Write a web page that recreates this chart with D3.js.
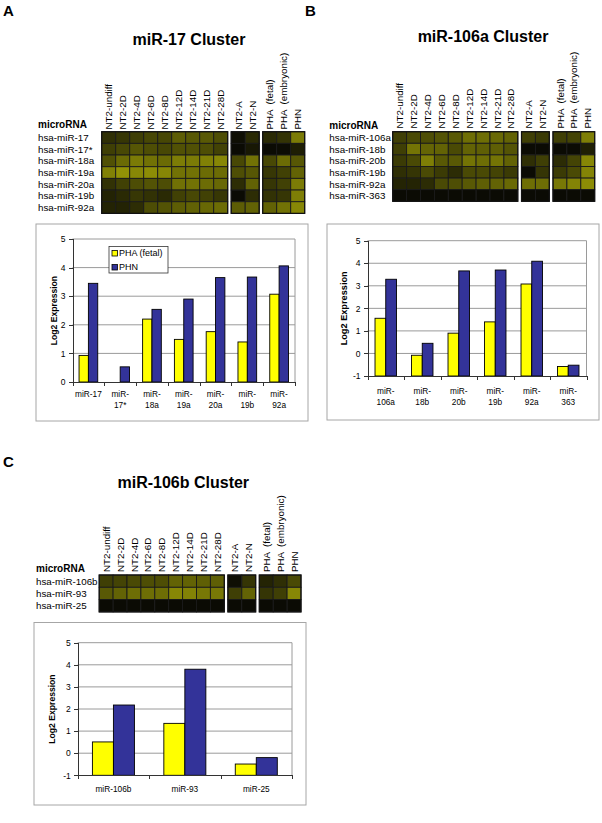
<!DOCTYPE html>
<html><head><meta charset="utf-8">
<script src="https://cdn.jsdelivr.net/npm/d3@7"></script>
<style>body{margin:0;background:#fff}svg{display:block}text{font-family:Arial,"Liberation Sans",sans-serif;fill:#000}</style>
</head><body><svg id="chart" width="602" height="823"></svg>
<script>
// ---------- DATA ----------
const conditions = ["NT2-undiff","NT2-2D","NT2-4D","NT2-6D","NT2-8D","NT2-12D","NT2-14D","NT2-21D","NT2-28D","NT2-A","NT2-N","PHA  (fetal)","PHA  (embryonic)","PHN"];
const conditionGroup = [0,0,0,0,0,0,0,0,0,1,1,2,2,2];
const seriesNames = ["PHA (fetal)","PHN"];

// Panel A: miR-17 cluster
const miR17Rows = ["hsa-miR-17","hsa-miR-17*","hsa-miR-18a","hsa-miR-19a","hsa-miR-20a","hsa-miR-19b","hsa-miR-92a"];
const miR17Heat = [
  [2.7,3.2,3.8,4.3,4.3,5.8,5.5,5.5,4.8, 0.6,2.4, 2.4,3.0,7.8],
  [3.8,4.4,5.3,4.8,4.4,5.0,5.0,4.8,4.0, 0.3,1.2, 0.3,0.4,1.6],
  [5.0,6.7,7.8,7.2,6.7,7.9,7.8,8.2,8.6, 4.4,7.2, 4.4,6.8,5.4],
  [8.2,9.3,8.6,9.0,8.6,7.2,7.2,6.8,6.8, 4.8,5.4, 3.3,3.9,6.2],
  [2.9,3.9,4.7,5.1,4.7,7.1,7.2,6.8,6.5, 2.6,6.1, 3.2,3.9,7.8],
  [1.9,2.4,3.3,2.9,2.4,3.9,4.4,3.9,3.3, 0.3,2.6, 2.9,3.2,8.0],
  [1.9,1.9,2.6,4.7,5.1,5.8,6.1,6.5,6.8, 5.8,6.1, 6.1,7.2,8.6]
];
const miR17Cats = [["miR-17"],["miR-","17*"],["miR-","18a"],["miR-","19a"],["miR-","20a"],["miR-","19b"],["miR-","92a"]];
const miR17Fetal = [0.93, null, 2.2, 1.49, 1.76, 1.4, 3.07];
const miR17PHN   = [3.45, 0.53, 2.54, 2.9, 3.65, 3.67, 4.06];

// Panel B: miR-106a cluster
const miR106aRows = ["hsa-miR-106a","hsa-miR-18b","hsa-miR-20b","hsa-miR-19b","hsa-miR-92a","hsa-miR-363"];
const miR106aHeat = [
  [3.8,4.5,4.8,5.2,5.5,6.9,6.9,6.6,6.2, 3.8,3.5, 3.8,4.1,8.0],
  [3.8,7.3,6.3,6.2,4.5,6.2,5.9,5.9,5.2, 0.3,0.3, 0.3,0.3,1.7],
  [3.5,4.5,8.0,5.5,5.5,7.3,6.9,7.3,6.2, 2.7,3.8, 2.5,4.1,8.6],
  [2.7,3.1,4.5,3.5,2.5,4.5,4.5,4.1,3.5, 0.3,3.1, 3.5,4.5,8.4],
  [2.0,2.0,2.5,4.5,4.8,5.5,5.9,6.2,6.6, 6.9,6.9, 7.6,8.3,9.0],
  [0.3,0.3,0.3,0.3,0.3,0.3,0.3,0.3,0.3, 0.3,0.3, 0.3,0.3,0.3]
];
const miR106aCats = [["miR-","106a"],["miR-","18b"],["miR-","20b"],["miR-","19b"],["miR-","92a"],["miR-","363"]];
const miR106aFetal = [1.56, -0.08, 0.9, 1.4, 3.08, -0.58];
const miR106aPHN   = [3.29, 0.45, 3.66, 3.7, 4.09, -0.52];

// Panel C: miR-106b cluster
const miR106bRows = ["hsa-miR-106b","hsa-miR-93","hsa-miR-25"];
const miR106bHeat = [
  [3.8,4.1,4.5,4.8,4.8,6.2,6.2,5.9,5.9, 0.6,3.1, 2.0,2.7,4.5],
  [5.5,6.2,6.9,6.9,6.9,8.6,8.3,7.6,7.6, 3.8,6.2, 3.1,3.8,8.6],
  [0.3,0.3,0.3,0.3,0.3,0.3,0.3,0.3,0.3, 0.3,0.3, 0.3,0.3,0.3]
];
const miR106bCats = [["miR-106b"],["miR-93"],["miR-25"]];
const miR106bFetal = [0.51, 1.35, -0.49];
const miR106bPHN   = [2.18, 3.8, -0.2];

const yTicks = [-1,0,1,2,3,4,5];

// ---------- DRAWING ----------
const svg = d3.select("#chart");
const heatColor = d3.scaleLinear().domain([0,10]).range(["#060604","#9c9c06"]);
const seriesColors = ["#ffff00","#333399"];

function panelLetter(t,x,y){
  svg.append("text").attr("x",x).attr("y",y).attr("font-size",15).attr("font-weight","bold").text(t);
}
function title(t,x,y){
  svg.append("text").attr("x",x).attr("y",y).attr("text-anchor","middle").attr("font-size",16).attr("font-weight","bold").text(t);
}

function heatmap(c){
  const g = svg.append("g");
  const colX = i => c.x0 + i*c.colW + conditionGroup[i]*c.gap;
  const y = d3.scaleBand().domain(c.rows).range([c.y0, c.y0 + c.rowH*c.rows.length]);
  c.rows.forEach((r,ri)=>{
    g.selectAll(null).data(c.values[ri]).join("rect")
      .attr("x",(d,i)=>colX(i)).attr("y",y(r))
      .attr("width",c.colW).attr("height",y.bandwidth())
      .attr("fill",d=>heatColor(d)).attr("stroke","#1a1a1a").attr("stroke-width",0.9);
  });
  // group outlines
  [0,1,2].forEach(gi=>{
    const idx = conditionGroup.map((v,i)=>v===gi?i:-1).filter(i=>i>=0);
    g.append("rect").attr("x",colX(idx[0])).attr("y",c.y0)
      .attr("width",idx.length*c.colW).attr("height",c.rowH*c.rows.length)
      .attr("fill","none").attr("stroke","#111").attr("stroke-width",1.2);
  });
  g.selectAll(null).data(conditions).join("text")
    .attr("transform",(d,i)=>`translate(${colX(i)+c.colW/2+3.6},${c.labelBottom}) rotate(-90)`)
    .attr("font-size",9.8).style("white-space","pre").text(d=>d);
  g.append("text").attr("x",c.labelX).attr("y",c.headerY).attr("font-size",10).attr("font-weight","bold").text("microRNA");
  g.selectAll(null).data(c.rows).join("text")
    .attr("x",c.labelX).attr("y",d=>y(d)+y.bandwidth()/2+3.6)
    .attr("font-size",9.8).text(d=>d);
}

function barChart(c){
  const g = svg.append("g");
  g.append("rect").attr("x",c.box[0]).attr("y",c.box[1]).attr("width",c.box[2]-c.box[0]).attr("height",c.box[3]-c.box[1])
    .attr("fill","#fff").attr("stroke","#a6a6a6").attr("stroke-width",1);
  const y = d3.scaleLinear().domain([c.min,5]).range([c.yB,c.yT]);
  const x = d3.scaleBand().domain(d3.range(c.cats.length)).range([c.x0,c.x1]);
  const ticks = yTicks.filter(t=>t>=c.min);
  // gridlines
  g.selectAll(null).data(ticks.filter(t=>t>c.min)).join("line")
    .attr("x1",c.x0).attr("x2",c.x1).attr("y1",d=>y(d)).attr("y2",d=>y(d))
    .attr("stroke","#9a9a9a").attr("stroke-width",1);
  g.append("line").attr("x1",c.x1).attr("x2",c.x1).attr("y1",c.yT).attr("y2",c.yB).attr("stroke","#9a9a9a");
  // bars
  const bw = x.step()/3.4;
  [c.fetal,c.phn].forEach((vals,si)=>{
    g.selectAll(null).data(vals.map((v,i)=>({v,i})).filter(d=>d.v!==null)).join("rect")
      .attr("x",d=>x(d.i)+x.bandwidth()/2+(si-1)*bw).attr("width",bw)
      .attr("y",d=>y(d.v)).attr("height",d=>y(c.min)-y(d.v))
      .attr("fill",seriesColors[si]).attr("stroke","#000").attr("stroke-width",0.9);
  });
  // y axis
  const ya = g.append("g").attr("transform",`translate(${c.x0},0)`)
    .call(d3.axisLeft(y).tickValues(ticks).tickSize(4).tickPadding(3).tickFormat(d=>String(d)));
  ya.selectAll("path,line").attr("stroke","#333").attr("shape-rendering","crispEdges");
  ya.selectAll("text").attr("font-size",8.5).attr("font-family","Arial,'Liberation Sans',sans-serif").attr("fill","#000");
  // x axis (ticks at category boundaries)
  const xb = d3.scaleLinear().domain([0,c.cats.length]).range([c.x0,c.x1]);
  const xa = g.append("g").attr("transform",`translate(0,${y(c.min)})`)
    .call(d3.axisBottom(xb).tickValues(d3.range(c.cats.length+1)).tickSize(4).tickFormat(""));
  xa.selectAll("path,line").attr("stroke","#333").attr("shape-rendering","crispEdges");
  // category labels
  const lab = g.selectAll(null).data(c.cats).join("text")
    .attr("text-anchor","middle").attr("font-size",8.3);
  lab.each(function(lines,i){
    const t = d3.select(this);
    lines.forEach((ln,k)=>{
      t.append("tspan").attr("x",x(i)+x.bandwidth()/2).attr("y",c.labY+k*11).text(ln);
    });
  });
  // y title
  g.append("text").attr("transform",`translate(${c.ylx},${(c.yT+c.yB)/2}) rotate(-90)`)
    .attr("text-anchor","middle").attr("font-size",c.ylSize).attr("font-weight","bold").text("Log2 Expression");
  if(c.legend){
    const L = c.legend;
    g.append("rect").attr("x",L[0]).attr("y",L[1]).attr("width",L[2]).attr("height",L[3])
      .attr("fill","#fff").attr("stroke","#333").attr("stroke-width",0.8);
    seriesNames.forEach((s,i)=>{
      g.append("rect").attr("x",L[0]+3).attr("y",L[1]+4+i*14).attr("width",5.5).attr("height",5.5)
        .attr("fill",seriesColors[i]).attr("stroke","#000").attr("stroke-width",0.8);
      g.append("text").attr("x",L[0]+10).attr("y",L[1]+9.5+i*14).attr("font-size",9).text(s);
    });
  }
}

// Panel A
panelLetter("A",3,16);
title("miR-17 Cluster",189,45);
heatmap({rows:miR17Rows,values:miR17Heat,x0:101.7,colW:14,gap:3.5,y0:131.7,rowH:11.67,labelBottom:129.5,labelX:38,headerY:128.3});
barChart({box:[36,224,308,421],x0:72.5,x1:295,yT:239,yB:382,min:0,cats:miR17Cats,fetal:miR17Fetal,phn:miR17PHN,labY:396.5,ylx:56.5,ylSize:8.6,legend:[109,246.5,59,26.5]});

// Panel B
panelLetter("B",305,16);
title("miR-106a Cluster",483,41.5);
heatmap({rows:miR106aRows,values:miR106aHeat,x0:392.7,colW:13.9,gap:3.7,y0:131.7,rowH:11.6,labelBottom:128.5,labelX:329.3,headerY:128.5});
barChart({box:[327,224,599,420],x0:367.5,x1:586.5,yT:240.7,yB:376,min:-1,cats:miR106aCats,fetal:miR106aFetal,phn:miR106aPHN,labY:394,ylx:346.5,ylSize:9.2});

// Panel C
panelLetter("C",3,467);
title("miR-106b Cluster",183.3,488);
heatmap({rows:miR106bRows,values:miR106bHeat,x0:99.2,colW:13.9,gap:3.6,y0:575,rowH:12.3,labelBottom:572,labelX:36,headerY:571.5});
barChart({box:[34,622.5,306,805],x0:77.7,x1:292,yT:642.7,yB:775.3,min:-1,cats:miR106bCats,fetal:miR106bFetal,phn:miR106bPHN,labY:791.5,ylx:55,ylSize:8.6});
</script></body></html>
